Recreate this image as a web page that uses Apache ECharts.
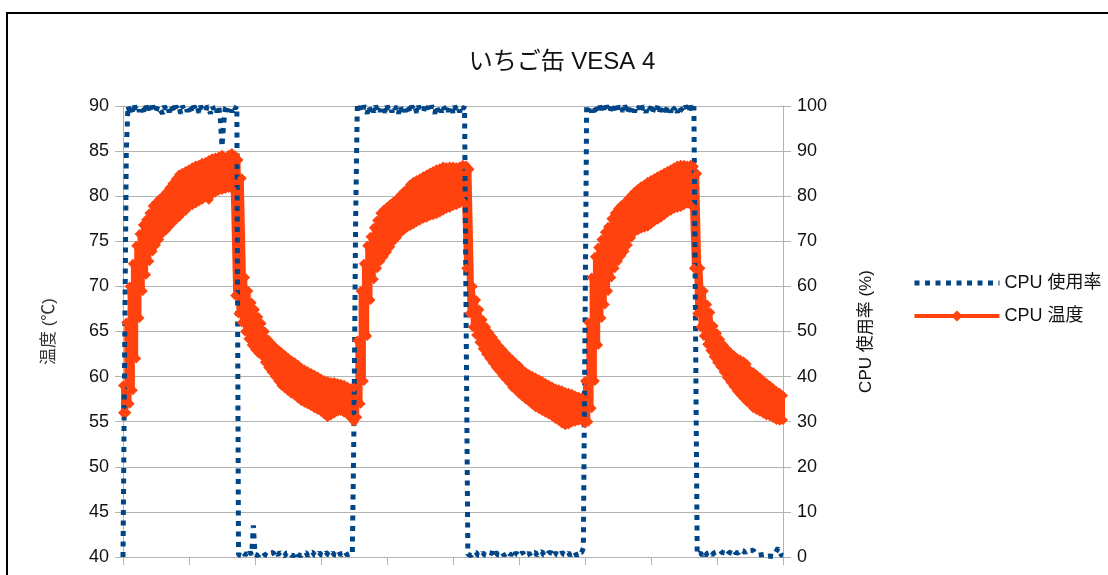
<!DOCTYPE html>
<html>
<head>
<meta charset="utf-8">
<title>いちご缶 VESA 4</title>
<script src="https://cdn.jsdelivr.net/npm/echarts@6/dist/echarts.min.js"></script>
<style>
  html, body { margin: 0; padding: 0; background: #fff; overflow: hidden; }
  #frame { position: absolute; left: 6px; top: 12px; width: 1200px; height: 700px; border: 2px solid #000; }
  #main { position: absolute; left: 0; top: 0; width: 1108px; height: 575px; }
</style>
</head>
<body>
<div id="frame"></div>
<div id="main"></div>
<script>
// 温度: lowest / highest reading in each half step of the x axis (0 .. 100)
const TEMP_STEP = 0.5;
const tempLo = [
  56.0, 56.0, 57.0, 58.5, 62.0, 66.5, 69.5, 71.3, 72.8, 73.9,
  74.6, 75.2, 75.9, 76.2, 76.6, 77.0, 77.4, 77.7, 78.1, 78.4,
  78.8, 79.0, 79.2, 79.4, 79.6, 79.9, 79.6, 80.2, 80.4, 80.6,
  80.7, 80.8, 80.9, 80.8, 69.0, 67.0, 66.0, 65.0, 64.2, 63.5,
  63.0, 62.6, 62.3, 61.6, 61.0, 60.5, 60.0, 59.5, 59.0, 58.7,
  58.4, 58.1, 57.9, 57.6, 57.3, 57.1, 56.9, 56.7, 56.5, 56.3,
  56.1, 55.8, 55.5, 55.7, 55.9, 56.1, 56.2, 56.0, 55.8, 55.4,
  55.0, 55.5, 57.0, 59.5, 64.5, 68.5, 70.8, 72.0, 72.8, 73.3,
  73.8, 74.4, 75.0, 75.4, 75.9, 76.2, 76.5, 76.7, 76.9, 77.1,
  77.3, 77.5, 77.6, 77.8, 77.9, 78.0, 78.2, 78.4, 78.6, 78.7,
  78.9, 79.0, 79.2, 79.4, 72.0, 67.0, 65.5, 64.6, 63.8, 63.1,
  62.5, 62.0, 61.5, 61.0, 60.6, 60.1, 59.7, 59.3, 58.8, 58.5,
  58.1, 57.8, 57.5, 57.2, 56.9, 56.6, 56.4, 56.2, 56.0, 55.8,
  55.6, 55.3, 55.1, 54.8, 54.6, 54.7, 54.9, 55.0, 55.1, 55.1,
  54.8, 55.0, 56.5, 59.5, 63.5, 66.5, 68.0, 69.5, 71.0, 72.0,
  72.8, 73.4, 73.9, 74.6, 75.4, 76.0, 76.2, 76.4, 76.5, 76.6,
  76.9, 77.2, 77.4, 77.6, 77.9, 78.2, 78.4, 78.6, 78.7, 78.8,
  79.0, 79.2, 79.0, 72.0, 67.0, 65.5, 64.5, 63.6, 62.9, 62.2,
  61.6, 61.1, 60.5, 59.9, 59.4, 58.9, 58.4, 58.0, 57.6, 57.2,
  56.9, 56.5, 56.3, 56.1, 55.9, 55.7, 55.6, 55.4, 55.2, 55.1,
  55.2
];
const tempHi = [
  59.0, 66.0, 70.0, 72.5, 74.5, 75.8, 76.8, 77.4, 78.1, 78.9,
  79.3, 79.7, 80.0, 80.4, 80.9, 81.4, 81.9, 82.4, 82.6, 82.8,
  83.0, 83.2, 83.4, 83.5, 83.7, 83.8, 84.0, 84.2, 84.3, 84.4,
  84.6, 84.2, 84.6, 84.8, 84.5, 84.0, 82.0, 71.0, 69.5, 68.2,
  67.4, 66.6, 65.9, 65.0, 64.1, 63.7, 63.3, 63.0, 62.7, 62.4,
  62.1, 61.8, 61.6, 61.3, 61.0, 60.8, 60.6, 60.4, 60.2, 60.0,
  59.8, 59.6, 59.5, 59.4, 59.4, 59.3, 59.2, 59.1, 58.9, 58.7,
  58.8, 64.0, 69.5, 72.5, 74.5, 75.5, 76.5, 77.3, 78.1, 78.5,
  78.8, 79.1, 79.4, 79.7, 80.1, 80.5, 80.8, 81.3, 81.6, 81.8,
  82.0, 82.2, 82.4, 82.6, 82.8, 83.0, 83.1, 83.3, 83.2, 83.3,
  83.3, 83.2, 83.3, 83.5, 83.4, 83.0, 70.0, 68.5, 67.4, 66.3,
  65.5, 64.9, 64.4, 63.9, 63.4, 63.0, 62.6, 62.2, 61.9, 61.5,
  61.2, 60.8, 60.5, 60.3, 60.1, 59.9, 59.7, 59.5, 59.3, 59.1,
  58.9, 58.7, 58.6, 58.5, 58.3, 58.2, 58.1, 57.9, 57.8, 57.7,
  59.5, 66.0, 71.0, 73.3, 74.3, 75.2, 76.0, 76.6, 77.5, 78.1,
  78.6, 79.0, 79.3, 79.7, 80.1, 80.5, 80.8, 81.1, 81.3, 81.6,
  81.8, 82.0, 82.2, 82.4, 82.6, 82.8, 83.0, 83.2, 83.4, 83.5,
  83.5, 83.4, 83.5, 83.3, 82.5, 72.0, 69.5, 68.0, 67.1, 65.6,
  64.8, 64.1, 63.5, 63.1, 62.7, 62.4, 62.1, 61.9, 61.7, 61.4,
  60.7, 60.5, 60.2, 59.9, 59.6, 59.3, 59.0, 58.7, 58.4, 58.2,
  57.9
];

// CPU 使用率 (%): one reading every quarter step of the x axis (0 .. 100)
const CPU_STEP = 0.25;
const cpuUsage = [
  0, 45, 90, 100, 98.8, 99.8, 98.6, 100, 99.4, 99.9, 98.7, 100, 99.5, 98.2, 100, 99.3, 99.9, 98.6, 100, 99.6,
  98.7, 100, 99.4, 99.8, 98.3, 100, 99.3, 99.9, 98.6, 100, 99.5, 98.7, 100, 99.3, 99.8, 98.3, 100, 99.4, 99.9, 98.7,
  100, 99.5, 98.6, 100, 99.3, 99.9, 98.5, 100, 99.4, 99.8, 98.7, 100, 99.5, 98.3, 100, 99.3, 99.9, 98.6, 100, 97,
  91, 96, 99.5, 100, 98.8, 99.9, 98.6, 100, 99.4, 100, 0.5, 0.8, 0.3, 1.0, 0.4, 0.9, 0.3, 1.1, 0.5, 7,
  0.6, 1.0, 0.3, 0.8, 0.4, 1.1, 0.5, 0.9, 0.2, 0.8, 0.5, 1.0, 0.3, 0.9, 0.4, 1.1, 0.6, 0.8, 0.2, 0.9,
  0.5, 1.0, 0.4, 0.8, 0.3, 1.2, 0.5, 0.9, 0.3, 0.8, 0.6, 1.0, 0.2, 0.9, 0.5, 1.1, 0.4, 0.8, 0.3, 1.0,
  0.5, 0.9, 0.3, 1.1, 0.6, 0.8, 0.2, 1.0, 0.5, 0.9, 0.4, 1.2, 0.3, 0.8, 0.6, 1.0, 0.3, 0.9, 0.5, 1.0,
  30, 75, 100, 99.3, 99.9, 98.6, 100, 99.5, 98.3, 100, 98.8, 99.8, 98.6, 100, 99.4, 99.9, 98.7, 100, 99.5, 98.5,
  100, 99.3, 99.8, 98.6, 100, 99.4, 99.9, 98.3, 100, 98.8, 99.7, 98.7, 100, 99.5, 98.6, 100, 99.3, 99.9, 98.5, 100,
  99.4, 99.8, 98.6, 100, 99.3, 99.9, 98.7, 100, 99.5, 98.3, 100, 98.8, 99.8, 98.6, 100, 99.4, 99.9, 98.7, 100, 99.5,
  98.5, 100, 99.3, 99.8, 98.6, 100, 99.4, 99.9, 100, 0.6, 1.0, 0.3, 0.9, 0.5, 1.1, 0.4, 0.8, 0.2, 1.0, 0.5,
  0.9, 0.3, 1.0, 0.6, 0.8, 0.2, 1.1, 0.5, 0.9, 0.4, 1.0, 0.3, 0.8, 0.6, 1.1, 0.4, 0.9, 0.2, 1.0, 0.5,
  0.8, 0.3, 1.1, 0.5, 0.9, 0.4, 1.0, 0.2, 0.8, 0.6, 1.0, 0.3, 0.9, 0.5, 1.2, 0.4, 0.8, 0.3, 1.0, 0.6,
  0.9, 0.2, 1.0, 0.5, 0.8, 0.3, 1.1, 0.6, 0.9, 0.4, 1.0, 0.3, 0.8, 0.5, 1.1, 0.2, 0.9, 0.6, 1.0, 2,
  50, 100, 98.8, 99.9, 98.6, 100, 99.4, 99.8, 98.3, 100, 99.3, 99.9, 98.7, 100, 99.5, 98.6, 100, 99.3, 99.8, 98.5,
  100, 99.4, 99.9, 98.7, 100, 99.5, 98.3, 100, 98.8, 99.8, 98.6, 100, 99.4, 99.9, 98.7, 100, 99.5, 98.5, 100, 99.3,
  99.8, 98.6, 100, 99.4, 99.9, 98.3, 100, 98.8, 99.7, 98.7, 100, 99.5, 98.6, 100, 99.3, 99.9, 98.5, 100, 99.4, 99.8,
  98.7, 100, 99.5, 98.6, 100, 99.3, 99.9, 100, 0.5, 0.2, 0.9, 0.4, 1.0, 0.3, 0.8, 0.5, 1.1, 0.4, 0.9, 0.6,
  1.2, 0.8, 1.5, 1.0, 1.4, 0.9, 1.6, 1.1, 1.3, 0.8, 1.5, 1.0, 1.4, 0.9, 1.6, 1.2, 1.4, 0.9, 1.5, 1.1,
  1.4, 1.0, 1.5, 0.9, 1.3, 0.4, 0.1, 0.5, 0.2, 0.6, 0.1, 0.5, 0.2, 0.4, 0.1, 0.6, 0.3, 2.0, 1.2, 0.4,
  0.3
];

// the temperature band is drawn as one line going low -> high at each step
const tempData = [];
tempLo.forEach(function (lo, i) {
  tempData.push([i * TEMP_STEP, lo], [i * TEMP_STEP, tempHi[i]]);
});
const cpuData = cpuUsage.map(function (v, i) { return [i * CPU_STEP, v]; });

const FONT = "'Liberation Sans', 'Noto Sans CJK JP', sans-serif";
const GRID = '#b3b3b3';

var myChart = echarts.init(document.getElementById('main'));

myChart.setOption({
  animation: false,
  textStyle: { fontFamily: FONT },
  title: {
    text: 'いちご缶 VESA 4',
    left: 557,
    top: 45,
    textAlign: 'center',
    textStyle: { fontSize: 24, fontWeight: 'normal', color: '#111', fontFamily: FONT }
  },
  legend: {
    orient: 'vertical',
    left: 912,
    top: 274,
    padding: 0,
    itemWidth: 85,
    itemHeight: 14,
    itemGap: 15,
    data: [
      { name: 'CPU 使用率', itemStyle: { opacity: 0 } },
      { name: 'CPU 温度' }
    ],
    lineStyle: { width: 'inherit' },
    textStyle: { fontSize: 18, color: '#111', fontFamily: FONT }
  },
  grid: { left: 123, right: 325, top: 106, bottom: 18 },
  xAxis: {
    type: 'value',
    min: 0,
    max: 100,
    interval: 10,
    axisLine: { show: true, onZero: false, lineStyle: { color: GRID } },
    axisTick: { show: true, length: 8, lineStyle: { color: GRID } },
    axisLabel: { show: false },
    splitLine: { show: false }
  },
  yAxis: [
    {
      type: 'value',
      position: 'left',
      min: 40,
      max: 90,
      interval: 5,
      name: '温度 (℃)',
      nameLocation: 'middle',
      nameRotate: 90,
      nameGap: 65,
      nameTextStyle: { fontSize: 17, color: '#333', fontFamily: FONT },
      axisLine: { show: true, lineStyle: { color: GRID } },
      axisTick: { show: true, length: 8, lineStyle: { color: GRID } },
      axisLabel: { fontSize: 18, color: '#111', margin: 14 },
      splitLine: { lineStyle: { color: GRID } }
    },
    {
      type: 'value',
      position: 'right',
      min: 0,
      max: 100,
      interval: 10,
      name: 'CPU 使用率 (%)',
      nameLocation: 'middle',
      nameRotate: 90,
      nameGap: 75,
      nameTextStyle: { fontSize: 17, color: '#111', fontFamily: FONT },
      axisLine: { show: true, lineStyle: { color: GRID } },
      axisTick: { show: true, length: 8, lineStyle: { color: GRID } },
      axisLabel: { fontSize: 18, color: '#111', margin: 14 },
      splitLine: { show: false }
    }
  ],
  series: [
    {
      name: 'CPU 温度',
      type: 'line',
      yAxisIndex: 0,
      data: tempData,
      clip: false,
      symbol: 'diamond',
      symbolSize: 10,
      showSymbol: true,
      lineStyle: { width: 4, color: '#ff420e' },
      itemStyle: { color: '#ff420e', borderWidth: 0 },
      emphasis: { disabled: true }
    },
    {
      name: 'CPU 使用率',
      type: 'line',
      yAxisIndex: 1,
      data: cpuData,
      clip: false,
      symbol: 'none',
      lineStyle: { width: 5, color: '#004586', type: [5, 5.5] },
      itemStyle: { color: '#004586' },
      emphasis: { disabled: true }
    }
  ]
});
</script>
</body>
</html>
